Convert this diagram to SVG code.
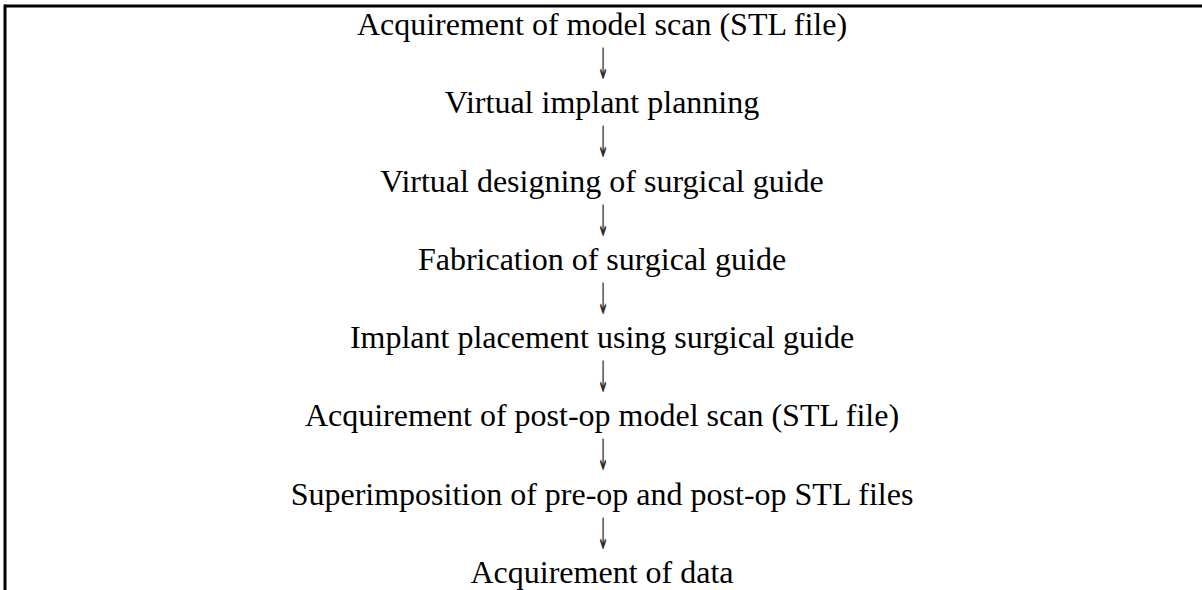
<svg xmlns="http://www.w3.org/2000/svg" width="1202" height="590" viewBox="0 0 1202 590">
<style>
.t{font-family:"Liberation Serif","Times New Roman",serif;font-size:32px;fill:#000;text-anchor:middle}
.a{font-family:"DejaVu Sans",sans-serif;font-size:32px;fill:#2a2a2a;text-anchor:middle}
</style>
<rect width="1202" height="590" fill="#fff"/>
<g id="frame" stroke="#000" stroke-width="3" fill="none">
<line x1="5" y1="6" x2="1202" y2="6"/>
<line x1="5" y1="4.5" x2="5" y2="590"/>
</g>
<g id="n1"><text class="t" x="602" y="35">Acquirement of model scan (STL file)</text></g>
<g id="n2"><text class="t" x="602" y="113">Virtual implant planning</text></g>
<g id="n3"><text class="t" x="602" y="192">Virtual designing of surgical guide</text></g>
<g id="n4"><text class="t" x="602" y="270">Fabrication of surgical guide</text></g>
<g id="n5"><text class="t" x="602" y="348">Implant placement using surgical guide</text></g>
<g id="n6"><text class="t" x="602" y="426">Acquirement of post-op model scan (STL file)</text></g>
<g id="n7"><text class="t" x="602" y="505">Superimposition of pre-op and post-op STL files</text></g>
<g id="n8"><text class="t" x="602" y="583">Acquirement of data</text></g>
<g id="connectors" opacity="0.99">
<text class="a" transform="translate(603,78.5) scale(0.45,1.35)">↓</text>
<text class="a" transform="translate(603,156.5) scale(0.45,1.35)">↓</text>
<text class="a" transform="translate(603,235.5) scale(0.45,1.35)">↓</text>
<text class="a" transform="translate(603,313.5) scale(0.45,1.35)">↓</text>
<text class="a" transform="translate(603,391.5) scale(0.45,1.35)">↓</text>
<text class="a" transform="translate(603,469.5) scale(0.45,1.35)">↓</text>
<text class="a" transform="translate(603,548.5) scale(0.45,1.35)">↓</text>
</g>
</svg>
